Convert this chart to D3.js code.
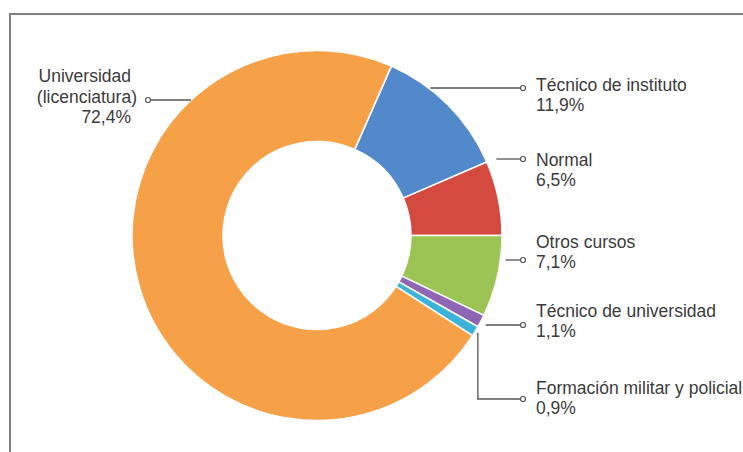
<!DOCTYPE html>
<html>
<head>
<meta charset="utf-8">
<script src="https://cdn.jsdelivr.net/npm/d3@7"></script>
<style>
  html, body { margin: 0; padding: 0; background: #fff; }
  svg { display: block; }
  text { font-family: "Liberation Sans", Arial, Helvetica, sans-serif; font-size: 17.5px; fill: #3b3b3b; }
</style>
</head>
<body>
<svg id="chart" width="743" height="452"></svg>
<script>
// Distribution by type of studies (percent)
const categories = ["Técnico de instituto", "Normal", "Otros cursos", "Técnico de universidad", "Formación militar y policial", "Universidad (licenciatura)"];
const nameLines = [["Técnico de instituto"], ["Normal"], ["Otros cursos"], ["Técnico de universidad"], ["Formación militar y policial"], ["Universidad", "(licenciatura)"]];
const shares = [11.9, 6.5, 7.1, 1.1, 0.9, 72.4];
const colors = ["#5189cb", "#d44a3f", "#9bc455", "#8e66b5", "#3cb3d8", "#f6a048"];

// Label placement: side, first baseline, leader height, gap from ring, elbow leader
const layout = [
  { side: "right", y0: 91,  ly: 88,  pad: 1,  elbow: false },
  { side: "right", y0: 166, ly: 159, pad: 10, elbow: false },
  { side: "right", y0: 248, ly: 260, pad: 5,  elbow: false },
  { side: "right", y0: 317, ly: 325, pad: 6,  elbow: false },
  { side: "right", y0: 394, ly: 399, pad: 0,  elbow: true  },
  { side: "left",  y0: 82,  ly: 100, pad: 0,  elbow: false }
];

const fmt = v => v.toFixed(1).replace(".", ",") + "%";

const svg = d3.select("#chart");
const cx = 317, cy = 235.5, R = 185, r0 = 94;

// frame
svg.append("path")
  .attr("d", "M10,452 V14 H743")
  .attr("fill", "none")
  .attr("stroke", "#808080")
  .attr("stroke-width", 2);

const total = d3.sum(shares);
// rotate so the Normal / Otros cursos boundary sits at 3 o'clock
const offset = Math.PI / 2 - 2 * Math.PI * (shares[0] + shares[1]) / total;
const pie = d3.pie().sort(null).value(d => d)
  .startAngle(offset).endAngle(offset + 2 * Math.PI);
const arcs = pie(shares);
const arc = d3.arc().innerRadius(r0).outerRadius(R);

const g = svg.append("g").attr("transform", `translate(${cx},${cy})`);
g.selectAll("path.slice")
  .data(arcs)
  .join("path")
  .attr("class", "slice")
  .attr("d", arc)
  .attr("fill", (d, i) => colors[i])
  .attr("stroke", "#fff")
  .attr("stroke-width", 1.5)
  .attr("stroke-linejoin", "round");

// leaders and labels
const labelXRight = 536, dotXRight = 523;
const labelXLeft = 131, dotXLeft = 148;
const lineH = 20.5;

arcs.forEach((a, i) => {
  const L = layout[i];
  const right = L.side === "right";
  let pts;
  if (L.elbow) {
    const mid = (a.startAngle + a.endAngle) / 2;
    const sx = cx + (R + 3) * Math.sin(mid);
    const sy = cy - (R + 3) * Math.cos(mid);
    pts = [[sx, sy], [sx, L.ly], [dotXRight - 2.5, L.ly]];
  } else {
    const dy = L.ly - cy;
    const dx = Math.sqrt(Math.max(0, (R + L.pad) ** 2 - dy * dy));
    const sx = right ? cx + dx : cx - dx;
    pts = right ? [[sx, L.ly], [dotXRight - 2.5, L.ly]] : [[sx, L.ly], [dotXLeft + 2.5, L.ly]];
  }
  svg.append("path")
    .attr("d", d3.line()(pts))
    .attr("fill", "none")
    .attr("stroke", "#555")
    .attr("stroke-width", 1.3);
  svg.append("circle")
    .attr("cx", right ? dotXRight : dotXLeft)
    .attr("cy", L.ly)
    .attr("r", 2.5)
    .attr("fill", "#fff")
    .attr("stroke", "#555")
    .attr("stroke-width", 1.2);

  const lines = nameLines[i].concat([fmt(shares[i])]);
  const t = svg.append("text")
    .attr("text-anchor", right ? "start" : "end");
  lines.forEach((s, k) => {
    t.append("tspan")
      .attr("x", right ? labelXRight : (s.startsWith("(") ? labelXLeft + 6 : labelXLeft))
      .attr("y", L.y0 + k * (right ? 20 : lineH))
      .text(s);
  });
});
</script>
</body>
</html>
